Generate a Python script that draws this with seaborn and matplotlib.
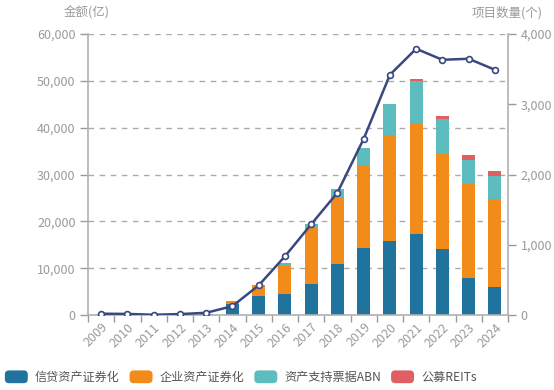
import numpy as np
import pandas as pd
import seaborn as sns
import matplotlib.pyplot as plt
from matplotlib.patches import Patch, FancyBboxPatch
from matplotlib.legend_handler import HandlerPatch
from matplotlib.ticker import FuncFormatter, FixedLocator

sns.set_theme(style="white")
plt.rcParams['font.family'] = ['Noto Sans CJK SC', 'DejaVu Sans']

# data (amounts in 亿, counts in 个)
years = [str(y) for y in range(2009, 2025)]
credit = [0, 0, 0, 200, 280, 2300, 4000, 4500, 6700, 10900, 14250, 15750, 17300, 14100, 7970, 5900]
corporate = [0, 0, 0, 0, 0, 700, 2400, 6300, 12100, 14100, 17800, 22700, 23800, 20370, 20090, 18900]
abn = [0, 0, 0, 0, 0, 0, 100, 300, 700, 1850, 3700, 6630, 8900, 7400, 5060, 4900]
reits = [0, 0, 0, 0, 0, 0, 0, 0, 0, 0, 0, 0, 360, 710, 1070, 1130]
counts = [20, 17, 5, 15, 33, 128, 423, 836, 1292, 1742, 2507, 3419, 3789, 3632, 3647, 3490]

names = ['信贷资产证券化', '企业资产证券化', '资产支持票据ABN', '公募REITs']
colors = ['#20739c', '#f38b1b', '#5dbcbe', '#df5f62']
line_color = '#3a4880'
gray = '#9a9a9a'

df = pd.DataFrame({'year': years, names[0]: credit, names[1]: corporate,
                   names[2]: abn, names[3]: reits})
cum = df[names].cumsum(axis=1)

fig = plt.figure(figsize=(5.54, 3.9), dpi=100)
ax = fig.add_axes([0.159, 0.192, 0.758, 0.721])

# stacked bars: draw cumulative totals from top layer down
for name, col in reversed(list(zip(names, colors))):
    sns.barplot(x=df['year'], y=cum[name], color=col, width=0.5,
                saturation=1, ax=ax, linewidth=0)

ax.set_ylim(0, 60000)
ax.set_xlim(-0.5, len(years) - 0.5)
ax.set_yticks(np.arange(0, 60001, 10000))
ax.yaxis.set_major_formatter(FuncFormatter(lambda v, p: f'{int(v):,}'))
ax.set_xlabel('')
ax.set_ylabel('')
for v in range(10000, 60001, 10000):
    ax.axhline(v, color='#aaaaaa', lw=1, ls=(0, (4, 4)), zorder=0)

ax.tick_params(axis='y', colors=gray, labelsize=9, length=6, width=1, direction='out', pad=3, left=True)
ax.tick_params(axis='x', which='major', colors=gray, labelsize=9, length=0, pad=4)
ax.xaxis.set_minor_locator(FixedLocator(np.arange(-0.5, len(years), 1)))
ax.tick_params(axis='x', which='minor', color=gray, length=5, width=1, bottom=True)
plt.setp(ax.get_xticklabels(), rotation=45, ha='right', rotation_mode='anchor')
for s in ['top', 'right']:
    ax.spines[s].set_visible(False)
for s in ['left', 'bottom']:
    ax.spines[s].set_color('#b0b0b0')
    ax.spines[s].set_linewidth(1.2)

ax2 = ax.twinx()
sns.lineplot(x=np.arange(len(years)), y=counts, ax=ax2, color=line_color, lw=1.8,
             marker='o', markersize=4.2, markerfacecolor='white',
             markeredgecolor=line_color, markeredgewidth=1.2, zorder=5)
ax2.set_ylim(0, 4000)
ax2.set_yticks(np.arange(0, 4001, 1000))
ax2.yaxis.set_major_formatter(FuncFormatter(lambda v, p: f'{int(v):,}'))
ax2.tick_params(axis='y', colors=gray, labelsize=9, length=6, width=1, direction='out', pad=3, right=True)
ax2.grid(False)
for s in ['top', 'left', 'bottom']:
    ax2.spines[s].set_visible(False)
ax2.spines['right'].set_color('#b0b0b0')
ax2.spines['right'].set_linewidth(1.2)

fig.text(0.157, 0.968, '金额(亿)', color=gray, fontsize=9, ha='center', va='center')
fig.text(0.915, 0.968, '项目数量(个)', color=gray, fontsize=9, ha='center', va='center')


class RoundHandler(HandlerPatch):
    def create_artists(self, legend, orig_handle, xdescent, ydescent, width, height, fontsize, trans):
        p = FancyBboxPatch((-xdescent, -ydescent), width, height,
                           boxstyle='round,pad=0,rounding_size=3',
                           fc=orig_handle.get_facecolor(), ec='none', transform=trans)
        return [p]


handles = [Patch(facecolor=c, label=n) for n, c in zip(names, colors)]
fig.legend(handles=handles, loc='center left', bbox_to_anchor=(0.0, 0.033), ncol=4,
           frameon=False, fontsize=8.7, handlelength=1.9, handleheight=1.25,
           columnspacing=0.8, handletextpad=0.6, labelcolor='#555555',
           borderaxespad=0, borderpad=0.4,
           handler_map={Patch: RoundHandler()})

fig.savefig('out.png', dpi=100)
